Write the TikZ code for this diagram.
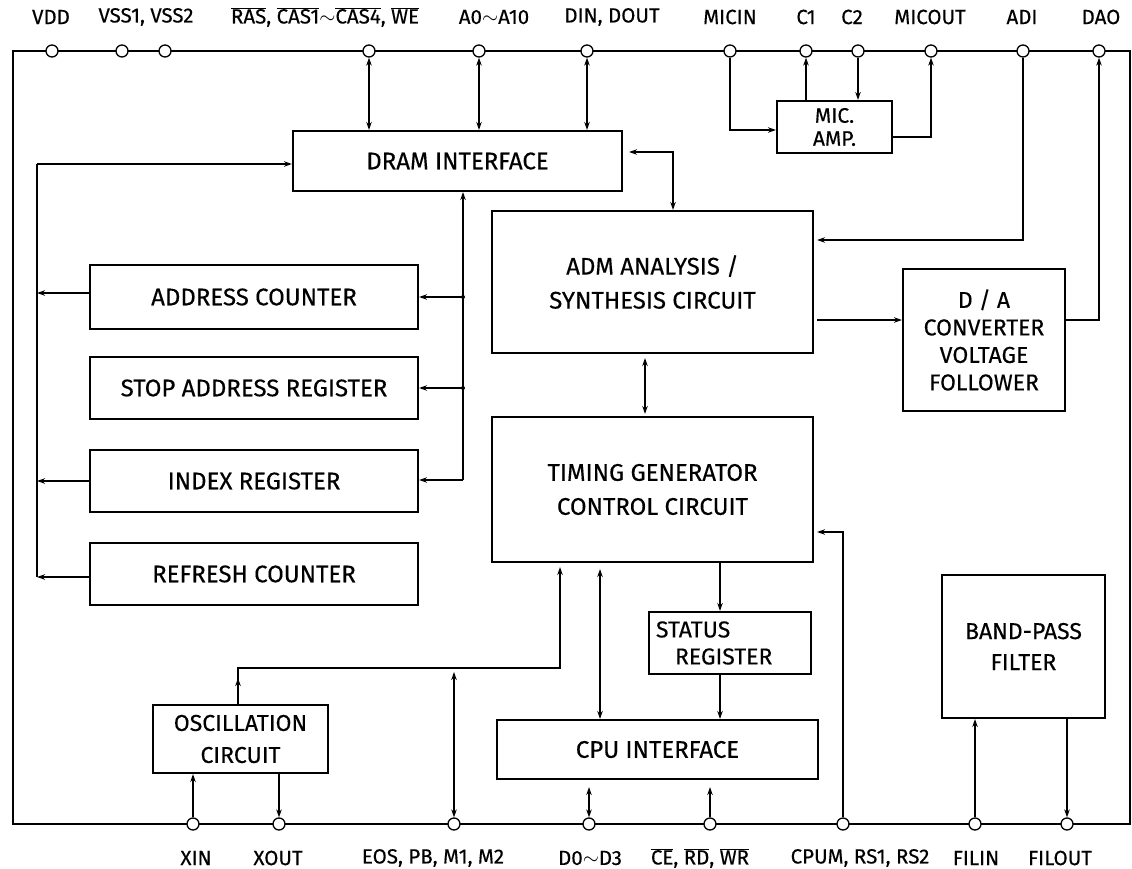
\documentclass[tikz,border=0pt]{standalone}
\usepackage{fontspec}
\setmainfont{Fira Sans}[FakeBold=0.3]
\usetikzlibrary{arrows.meta,calc}
\newcommand\ovl[1]{$\overline{\mbox{#1}}$}
\begin{document}
\begin{tikzpicture}[x=1pt,y=-1pt,
  box/.style={draw,line width=2.1pt,inner sep=0pt,align=center,font=\fontsize{24}{28}\selectfont},
  pin/.style={circle,draw,fill=white,line width=1.3pt,minimum size=12pt,inner sep=0pt},
  lbl/.style={font=\fontsize{20.5}{22}\selectfont,inner sep=0pt},
  conn/.style={line width=1.3pt},
  >={Stealth[length=8pt,width=5.5pt]}]
\useasboundingbox (0,0) rectangle (1132,869);
\fill[white] (0,0) rectangle (1132,869);
% frame
\draw[line width=2.5pt] (13,51) rectangle (1130,824);

% boxes
\node[box,minimum width=329pt,minimum height=60pt] (dram) at (457.5,161) {DRAM INTERFACE};
\node[box,minimum width=115pt,minimum height=52pt,font=\fontsize{21}{23}\selectfont] (mic) at (834.5,127) {MIC.\\AMP.};
\node[box,minimum width=321pt,minimum height=142pt,font=\fontsize{24}{34}\selectfont] (adm) at (652.5,282) {ADM ANALYSIS /\\SYNTHESIS CIRCUIT};
\node[box,minimum width=162pt,minimum height=142pt,font=\fontsize{23}{27.5}\selectfont] (da) at (984,340) {D / A\\CONVERTER\\VOLTAGE\\FOLLOWER};
\node[box,minimum width=328pt,minimum height=64pt] (addr) at (254,297) {ADDRESS COUNTER};
\node[box,minimum width=328pt,minimum height=62pt] (stop) at (254,388) {STOP ADDRESS REGISTER};
\node[box,minimum width=328pt,minimum height=62pt] (index) at (254,481) {INDEX REGISTER};
\node[box,minimum width=328pt,minimum height=62pt] (refresh) at (254,574) {REFRESH COUNTER};
\node[box,minimum width=321pt,minimum height=145pt,font=\fontsize{24}{34}\selectfont] (timing) at (652.5,489.5) {TIMING GENERATOR\\CONTROL CIRCUIT};
\node[box,minimum width=162pt,minimum height=62pt,text width=148pt,align=left,font=\fontsize{23}{27}\selectfont] (status) at (730,643) {STATUS\\\hspace*{19pt}REGISTER};
\node[box,minimum width=321pt,minimum height=59pt] (cpu) at (657.5,749.5) {CPU INTERFACE};
\node[box,minimum width=175pt,minimum height=68pt,font=\fontsize{23}{32}\selectfont] (osc) at (240.5,739) {OSCILLATION\\CIRCUIT};
\node[box,minimum width=163pt,minimum height=143pt,font=\fontsize{23}{31}\selectfont] (bpf) at (1023.5,646.5) {BAND-PASS\\FILTER};

% pins top
\foreach \n/\x in {vdd/52,vssa/122,vssb/165,ras/369,a0/479,din/587,micin/730,c1/806,c2/858,micout/931,adi/1023,dao/1099}
  \node[pin] (\n) at (\x,51) {};
% pins bottom
\foreach \n/\x in {xin/193,xout/279,eos/454,d0/589,ce/710,cpum/843,filin/975,filout/1067}
  \node[pin] (\n) at (\x,824) {};

% top labels
\node[lbl] (lvdd) at (51,17) {VDD};
\node[lbl] (lvss) at (146,17) {VSS1, VSS2};
\node[lbl] (lras) at (325,17) {\ovl{RAS}, \ovl{CAS1}$\sim$\ovl{CAS4}, \ovl{WE}};
\node[lbl] (la0) at (494,17) {A0$\sim$A10};
\node[lbl] (ldin) at (612,17) {DIN, DOUT};
\node[lbl] (lmicin) at (730,17) {MICIN};
\node[lbl] (lc1) at (806,17) {C1};
\node[lbl] (lc2) at (852,17) {C2};
\node[lbl] (lmicout) at (930,17) {MICOUT};
\node[lbl] (ladi) at (1022,17) {ADI};
\node[lbl] (ldao) at (1101,17) {DAO};
% bottom labels
\node[lbl] (lxin) at (196,858) {XIN};
\node[lbl] (lxout) at (278,858) {XOUT};
\node[lbl] (leos) at (433,858) {EOS, PB, M1, M2};
\node[lbl] (ld0) at (590,858) {D0$\sim$D3};
\node[lbl] (lce) at (700,858) {\ovl{CE}, \ovl{RD}, \ovl{WR}};
\node[lbl] (lcpum) at (860,858) {CPUM, RS1, RS2};
\node[lbl] (lfilin) at (976,858) {FILIN};
\node[lbl] (lfilout) at (1060,858) {FILOUT};

% connectors
\begin{scope}[conn]
% DRAM pins
\draw[<->] (ras.south) -- (ras.south |- dram.north);
\draw[<->] (a0.south) -- (a0.south |- dram.north);
\draw[<->] (din.south) -- (din.south |- dram.north);
% left bus
\coordinate (lbtop) at (37,164);
\coordinate (lbbot) at (37,577);
\draw[->] (lbtop) -- (lbtop -| dram.west);
\draw (lbtop) -- (lbbot);
\draw[->] (addr.west |- 0,293) -- (lbtop |- 0,293);
\draw[->] (index.west) -- (lbtop |- index.west);
\draw[->] (refresh.west |- lbbot) -- (lbbot);
% right bus
\coordinate (rbbot) at (463,480);
\draw[->] (rbbot) -- (rbbot |- dram.south);
\draw[->] (rbbot) -- (index.east |- rbbot);
\draw[->] (rbbot |- addr.east) -- (addr.east);
\draw[->] (rbbot |- stop.east) -- (stop.east);
\fill (rbbot |- addr.east) circle (2pt);
\fill (rbbot |- stop.east) circle (2pt);
% DRAM <-> ADM
\draw[<->] ([xshift=6pt,yshift=9pt]dram.east) -| ([xshift=20.5pt]adm.north);
% ADI -> ADM
\draw[->] (adi.south) |- ([xshift=3pt,yshift=42pt]adm.east);
% ADM -> D/A
\draw[->] ([xshift=3pt,yshift=-38pt]adm.east) -- ([yshift=20pt]da.west);
% D/A -> DAO
\draw[->] ([yshift=20pt]da.east) -| (dao.south);
% MIC amp
\draw[->] (micin.south) |- ([yshift=-3pt]mic.west);
\draw[->] (mic.north -| c1.south) -- (c1.south);
\draw[->] (c2.south) -- (c2.south |- mic.north);
\draw[->] ([yshift=-10pt]mic.east) -| (micout.south);
% ADM <-> timing
\draw[<->] ([xshift=-7.5pt,yshift=-4pt]adm.south) -- ([xshift=-7.5pt,yshift=2pt]timing.north);
% osc -> timing
\coordinate (oscbend) at (560,668);
\draw[->] ([xshift=-2.5pt]osc.north) -- ++(0,-26);
\draw[->] ([xshift=-2.5pt]osc.north) |- (oscbend) -- ([yshift=-4pt]oscbend |- timing.south);
% EOS
\coordinate (eostop) at (454,672);
\draw[<->] (eostop) -- (eos.north);
% timing <-> cpu
\draw[<->] ([xshift=-52.5pt,yshift=-6pt]timing.south) -- ([xshift=-57.5pt]cpu.north);
% timing -> status -> cpu
\draw[->] ([xshift=67.5pt]timing.south) -- ([xshift=-10pt]status.north);
\draw[->] ([xshift=-10pt]status.south) -- ([xshift=62.5pt]cpu.north);
% CPU pins
\draw[<->] (d0.north) -- ([yshift=-7pt]d0.north |- cpu.south);
\draw[->] (ce.north) -- ([yshift=-7pt]ce.north |- cpu.south);
\draw[->] (cpum.north) |- ([xshift=3pt,yshift=-42.5pt]timing.east);
% osc pins
\draw[->] (xin.north) -- (xin.north |- osc.south);
\draw[->] (xout.north |- osc.south) -- (xout.north);
% filter pins
\draw[->] (filin.north) -- (filin.north |- bpf.south);
\draw[->] (filout.north |- bpf.south) -- (filout.north);
\end{scope}
\end{tikzpicture}
\end{document}
